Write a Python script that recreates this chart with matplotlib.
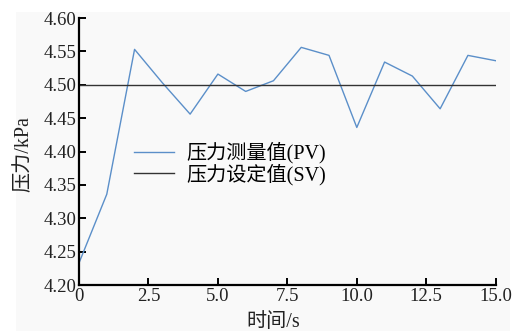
import numpy as np
import matplotlib
matplotlib.use("Agg")
import matplotlib.pyplot as plt
from matplotlib.patches import Rectangle

plt.rcParams["font.family"] = ["Liberation Serif", "Noto Sans CJK SC"]

# measured pressure sampled once per second
t = [0, 1, 2, 3, 4, 5, 6, 7, 8, 9, 10, 11, 12, 13, 14, 15]
pv = [4.233, 4.336, 4.553, 4.503, 4.456, 4.516, 4.490, 4.506,
      4.556, 4.544, 4.436, 4.534, 4.513, 4.464, 4.544, 4.536]
sv_t = [0, 15]
sv = [4.50, 4.50]

BLUE = "#5b8fc9"
DARK = "#333333"
TXT = "#222222"

fig = plt.figure(figsize=(5.16, 3.31), dpi=100, facecolor="white")
fig.patches.append(Rectangle((16 / 516, 0), 494 / 516, 1 - 12 / 331,
                             transform=fig.transFigure, facecolor="#f9f9f9",
                             edgecolor="none", zorder=-10))
ax = fig.add_axes([79 / 516, 46 / 331, (495.7 - 79) / 516, (285 - 18) / 331])
ax.set_facecolor("none")

ax.plot(t, pv, color=BLUE, lw=1.0, label="压力测量值(PV)")
ax.plot(sv_t, sv, color=DARK, lw=1.0, label="压力设定值(SV)")

ax.set_xlim(0, 15)
ax.set_ylim(4.20, 4.60)
ax.set_xticks([0, 2.5, 5.0, 7.5, 10.0, 12.5, 15.0])
ax.set_xticklabels(["0", "2.5", "5.0", "7.5", "10.0", "12.5", "15.0"])
yt = np.arange(4.20, 4.601, 0.05)
ax.set_yticks(yt)
ax.set_yticklabels([f"{v:.2f}" for v in yt])

for side in ("top", "right"):
    ax.spines[side].set_visible(False)
for side in ("left", "bottom"):
    ax.spines[side].set_linewidth(1.6)
ax.tick_params(direction="in", length=5, width=1.4, labelsize=13.5,
               colors="black", labelcolor=TXT, pad=2)

ax.set_xlabel("时间/s", fontsize=14.5, color=TXT)
ax.xaxis.set_label_coords(0.467, -0.105)
ax.set_ylabel("压力/kPa", fontsize=14.5, color=TXT)
ax.yaxis.set_label_coords(-0.11, 0.49)

ax.legend(frameon=False, fontsize=14.5, loc="upper left",
          bbox_to_anchor=(0.112, 0.565), handlelength=2.0, handletextpad=0.6,
          labelspacing=0.0, borderaxespad=0)

fig.savefig("out.png", dpi=100)
